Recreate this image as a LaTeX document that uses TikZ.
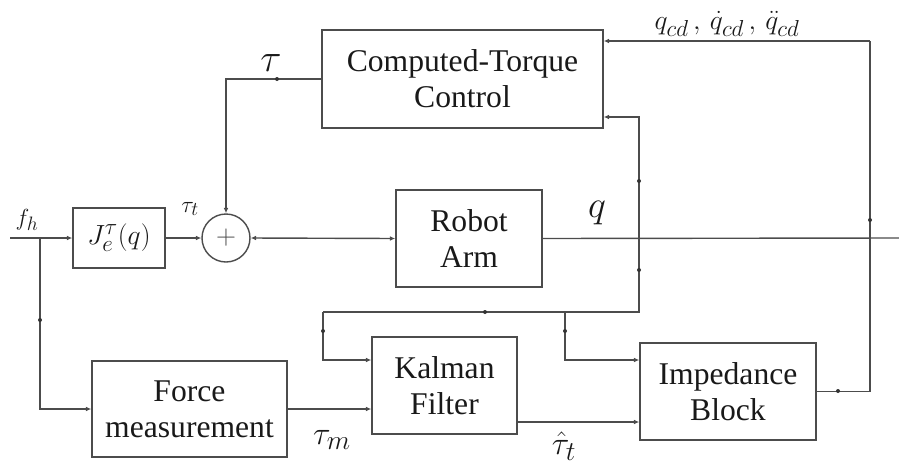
\documentclass[tikz,border=0pt]{standalone}
\usepackage{amsmath}
\usepackage{fontspec}
\setmainfont{Liberation Serif}
\usetikzlibrary{arrows.meta,calc}
\newcommand{\mlab}[2]{\scalebox{#1}{\Huge$#2$}}
\tikzset{
  ln/.style={draw=black!70, line width=1.2pt},
  arr/.style={ln, -{Latex[length=1.6mm,width=1.4mm]}},
  blk/.style 2 args={draw=black!70, line width=1.2pt, minimum width=#1*0.03cm, minimum height=#2*0.03cm, inner sep=0pt, align=center, text=black!90, font=\fontsize{27}{31}\selectfont},
  lbl/.style={text=black!90, inner sep=0pt},
  mk/.style={fill=black!80}
}
\begin{document}
\begin{tikzpicture}[x=0.03cm,y=-0.03cm]
\useasboundingbox (0,0) rectangle (899,466);
% blocks
\node[blk={281}{98}] (ctc) at (462.5,79) {Computed-Torque\\Control};
\node[blk={146}{97}] (robot) at (469,238.5) {Robot\\Arm};
\node[blk={92}{60}] (jbox) at (119,238) {\mlab{0.95}{J_e^{\tau}(q)}};
\node[draw=black!70, line width=1.2pt, circle, minimum size=48*0.03cm, inner sep=0pt, text=black!70] (sum) at (226,238) {\mlab{0.95}{+}};
\node[blk={195}{96}] (force) at (189.5,409) {Force\\measurement};
\node[blk={145}{97}] (kalman) at (444.5,385.5) {Kalman\\Filter};
\node[blk={176}{97}] (imp) at (728,391.5) {Impedance\\Block};
% coordinates
\coordinate (fin) at (10,238);
\coordinate (b1) at (40,238);
\coordinate (out) at (899,238);
\coordinate (b2) at (639,238);
\coordinate (b3) at (639,312);
\coordinate (b4) at (565,312);
\coordinate (c323) at (323,312);
\coordinate (y117) at (0,117);
\coordinate (y360) at (0,360);
\coordinate (y422) at (0,422);
\coordinate (c870) at (870,41);
% connectors
\draw[arr] (fin) -- (jbox.west);
\draw[arr] (b1) |- (force.west);
\draw[arr] (jbox.east) -- (sum.west);
\draw[arr] (ctc.west) -| (sum.north);
\draw[ln, {Latex[length=1.6mm,width=1.4mm]}-{Latex[length=1.6mm,width=1.4mm]}] (sum.east) -- (robot.west);
\draw[ln] (robot.east) -- (out);
\draw[arr] (b2) |- (ctc.east |- y117);
\draw[ln] (b2) -- (b3) -- (c323);
\draw[arr] (c323) |- (kalman.west |- y360);
\draw[arr] (b4) |- (imp.west |- y360);
\draw[arr] (force.east) -- (kalman.west |- force.east);
\draw[arr] (kalman.east |- y422) -- (imp.west |- y422);
\draw[ln] (imp.east) -| (c870);
\draw[arr] (c870) -- (ctc.east |- c870);
% small marks
\foreach \p in {(40,320),(277,79),(639,181),(639,270),(485,312),(323,331),(565,331),(870,220),(838,391)}
  \fill[mk] \p circle (2);
% labels
\node[lbl] (lfh) at (27,220) {\mlab{0.8}{f_h}};
\node[lbl] (ltt) at (190,209) {\mlab{0.8}{\tau_t}};
\node[lbl] (ltau) at (271,63) {\mlab{1.35}{\tau}};
\node[lbl] (lq) at (597,213) {\mlab{1.3}{q}};
\node[lbl] (lqcd) at (727,24) {\mlab{0.95}{q_{cd}\,,\,\dot{q}_{cd}\,,\,\ddot{q}_{cd}}};
\node[lbl] (ltm) at (332,440) {\mlab{1.12}{\tau_m}};
\node[lbl] (lth) at (564,446) {\mlab{1.12}{\hat{\tau}_t}};
\end{tikzpicture}
\end{document}
